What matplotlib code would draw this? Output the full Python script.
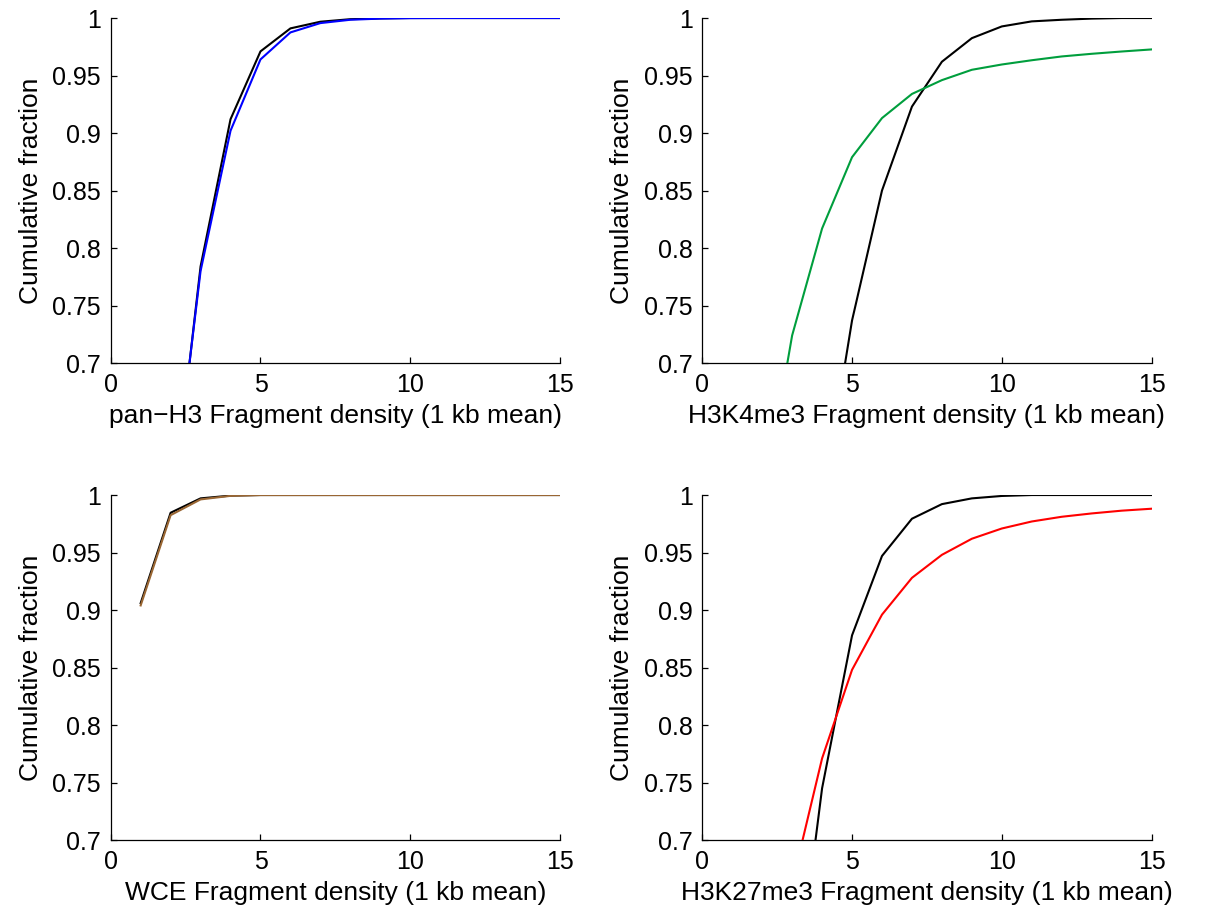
import matplotlib
matplotlib.use("Agg")
import matplotlib.pyplot as plt

plt.rcParams['font.family'] = ['Liberation Sans', 'DejaVu Sans']

x = list(range(1, 16))

# pan-H3 panel
panh3_black = [0.30, 0.557, 0.784, 0.912, 0.971, 0.991, 0.9968, 0.999, 0.9997, 1.0, 1.0, 1.0, 1.0, 1.0, 1.0]
panh3_blue = [0.30, 0.564, 0.780, 0.902, 0.964, 0.9875, 0.9956, 0.9985, 0.9995, 0.9999, 1.0, 1.0, 1.0, 1.0, 1.0]

# H3K4me3 panel
k4_black = [0.20, 0.35, 0.45, 0.577, 0.737, 0.850, 0.923, 0.962, 0.9825, 0.9927, 0.9971, 0.9985, 0.9995, 1.0, 1.0]
k4_green = [0.35, 0.574, 0.724, 0.817, 0.879, 0.913, 0.934, 0.946, 0.955, 0.9596, 0.9633, 0.9666, 0.9689, 0.9709, 0.9727]

# WCE panel
wce_black = [0.906, 0.9846, 0.9971, 0.9995, 1.0, 1.0, 1.0, 1.0, 1.0, 1.0, 1.0, 1.0, 1.0, 1.0, 1.0]
wce_brown = [0.904, 0.9825, 0.9962, 0.9993, 1.0, 1.0, 1.0, 1.0, 1.0, 1.0, 1.0, 1.0, 1.0, 1.0, 1.0]

# H3K27me3 panel
k27_black = [0.20, 0.35, 0.54, 0.745, 0.878, 0.947, 0.9794, 0.9921, 0.9971, 0.9992, 1.0, 1.0, 1.0, 1.0, 1.0]
k27_red = [0.35, 0.50, 0.662, 0.771, 0.848, 0.896, 0.928, 0.948, 0.962, 0.9709, 0.977, 0.9811, 0.984, 0.9864, 0.9881]

xlabels = ["pan\u2212H3 Fragment density (1 kb mean)",
           "H3K4me3 Fragment density (1 kb mean)",
           "WCE Fragment density (1 kb mean)",
           "H3K27me3 Fragment density (1 kb mean)"]
ylabel = "Cumulative fraction"
xticks = [0, 5, 10, 15]
yticks = [0.7, 0.75, 0.8, 0.85, 0.9, 0.95, 1.0]
yticklabels = ["0.7", "0.75", "0.8", "0.85", "0.9", "0.95", "1"]

panels = [
    (panh3_black, panh3_blue, (0.0, 0.0, 1.0)),
    (k4_black, k4_green, (0.0, 0.62, 0.24)),
    (wce_black, wce_brown, (0.6, 0.4, 0.2)),
    (k27_black, k27_red, (1.0, 0.0, 0.0)),
]

fig = plt.figure(figsize=(12.1, 9.11), dpi=100)
lefts = [0.0915, 0.5804]
width = 0.3713
bottoms = [0.6015, 0.0779]
height = 0.3787

for i, (kb, col_vals, col) in enumerate(panels):
    r, c = divmod(i, 2)
    ax = fig.add_axes([lefts[c], bottoms[r], width, height])
    ax.plot(x, kb, color='black', lw=1.5, zorder=2)
    ax.plot(x, col_vals, color=col, lw=1.5, zorder=3)
    ax.set_xlim(0, 15)
    ax.set_ylim(0.7, 1.0)
    ax.set_xticks(xticks)
    ax.set_yticks(yticks)
    ax.set_yticklabels(yticklabels)
    ax.spines['top'].set_visible(False)
    ax.spines['right'].set_visible(False)
    for s in ['left', 'bottom']:
        ax.spines[s].set_linewidth(0.9)
    ax.tick_params(direction='in', length=4.5, width=0.9, labelsize=18)
    ax.tick_params(axis='x', pad=7.5)
    ax.tick_params(axis='y', pad=7)
    ax.set_xlabel(xlabels[i], fontsize=19, labelpad=5)
    ax.set_ylabel(ylabel, fontsize=19, labelpad=7)

fig.savefig("out.png", dpi=100)
